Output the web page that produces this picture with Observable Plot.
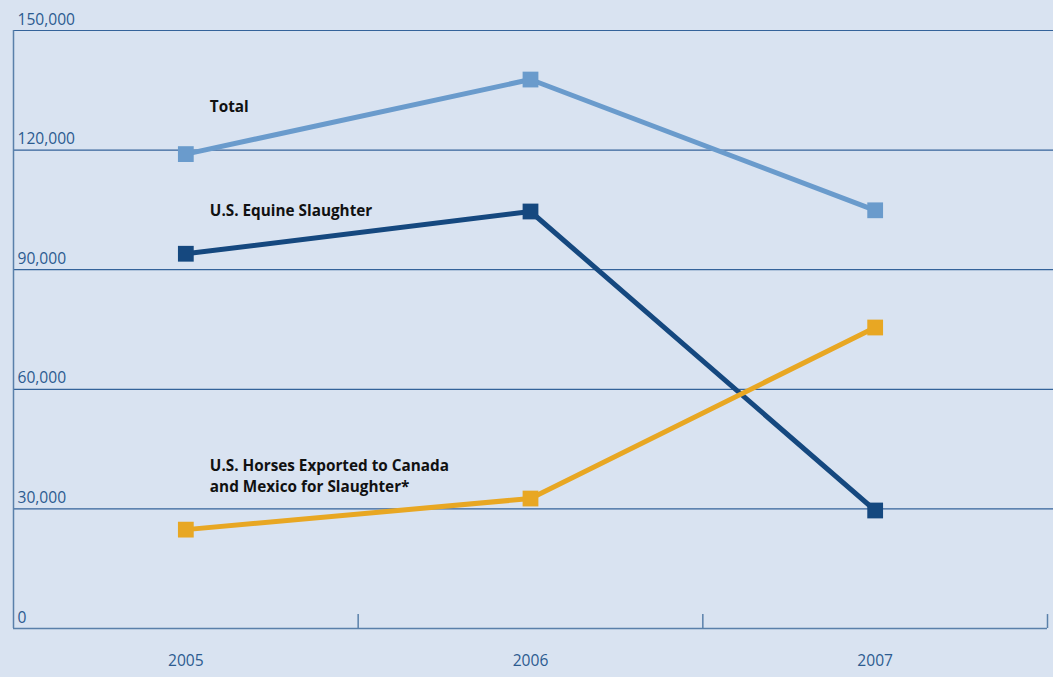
<!DOCTYPE html>
<html>
<head>
<meta charset="utf-8">
<script src="https://cdn.jsdelivr.net/npm/d3@7"></script>
<script src="https://cdn.jsdelivr.net/npm/@observablehq/plot@0.6"></script>
<style>
  html, body { margin: 0; padding: 0; background: #d9e3f1; }
  #chart svg { display: block; }
</style>
</head>
<body>
<div id="chart"></div>
<script>
const years = [2005, 2006, 2007];
const total = [119000, 137700, 104900];
const equine = [94000, 104600, 29600];
const exported = [24800, 32600, 75500];
const yTicks = [0, 30000, 60000, 90000, 120000, 150000];
const seriesNames = ["Total", "U.S. Equine Slaughter", "U.S. Horses Exported to Canada\nand Mexico for Slaughter*"];
const seriesColors = ["#6a9bcc", "#15487f", "#e8a723"];

const fontFam = "'Open Sans', 'Noto Sans', sans-serif";
const axisColor = "#2c5b90";

const seriesMarks = [total, equine, exported].flatMap((vals, s) => {
  const data = years.map((yr, i) => ({year: yr, value: vals[i]}));
  return [
    Plot.line(data, {x: "year", y: "value", stroke: seriesColors[s], strokeWidth: 5}),
    Plot.dot(data, {x: "year", y: "value", symbol: "square", r: 8.9, fill: seriesColors[s], stroke: "none"})
  ];
});

const labelOpts = {text: d => d, textAnchor: "start", dx: 24, fontSize: 15.3, fontWeight: "bold", fill: "#111"};

const chart = Plot.plot({
  width: 1053,
  height: 677,
  marginLeft: 13,
  marginRight: 0,
  marginTop: 30,
  marginBottom: 49,
  style: {background: "#d9e3f1", fontFamily: fontFam},
  x: {domain: [2004.5, 2007.5], range: [13, 1047], axis: null},
  y: {domain: [0, 150000], axis: null},
  marks: [
    Plot.ruleY(yTicks.filter(d => d > 0), {y: d => d, stroke: "#34639a", strokeWidth: 1.2}),
    Plot.ruleX([2004.5], {x: d => d, y1: 0, y2: 150000, stroke: "#5a80aa", strokeWidth: 1.5}),
    Plot.ruleY([0], {x1: 2004.5, x2: 2007.5, y: d => d, stroke: "#5a80aa", strokeWidth: 1.5}),
    Plot.ruleX(years, {x: d => d + 0.5, y1: 0, y2: 3500, stroke: "#5a80aa", strokeWidth: 1.5}),
    Plot.text(yTicks, {y: d => d, frameAnchor: "left", text: d => d3.format(",")(d), textAnchor: "start", dx: 4, dy: -11, fontSize: 15.6, fill: axisColor}),
    Plot.text(years, {x: d => d, frameAnchor: "bottom", text: d => String(d), dy: 37, fontSize: 15.6, fill: axisColor}),
    ...seriesMarks,
    Plot.text([seriesNames[0]], {x: years[0], y: 130700, ...labelOpts}),
    Plot.text([seriesNames[1]], {x: years[0], y: 104600, ...labelOpts}),
    Plot.text([seriesNames[2]], {x: years[0], y: 38500, ...labelOpts, lineHeight: 1.38})
  ]
});
document.getElementById("chart").append(chart);
</script>
</body>
</html>
